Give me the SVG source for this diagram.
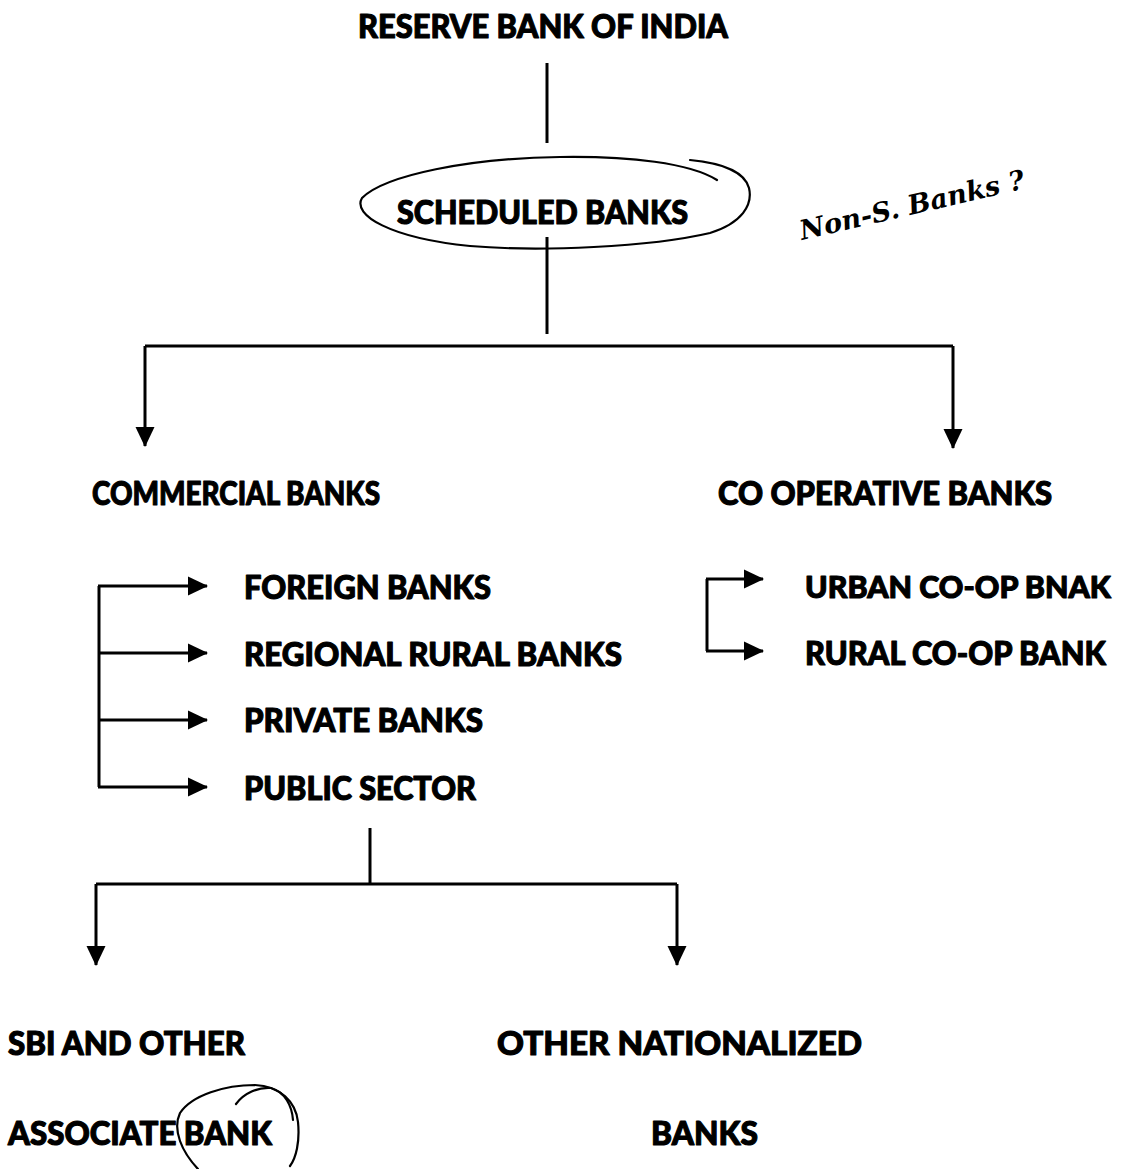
<svg xmlns="http://www.w3.org/2000/svg" width="1124" height="1169" viewBox="0 0 1124 1169">
<style>
.t{font-family:Lato,"Open Sans","Liberation Sans",sans-serif;font-weight:900;font-size:32px;fill:#000;stroke:#000;stroke-width:1.1;stroke-linejoin:round}
.c{stroke:#000;stroke-width:3;fill:none}
.a{stroke:#000;stroke-width:3;fill:none;marker-end:url(#ah)}
.h{stroke:#000;stroke-width:2.2;fill:none;stroke-linecap:round;stroke-linejoin:round}
.hw{font-family:"DejaVu Serif","Liberation Serif",serif;font-style:italic;font-weight:700;font-size:27px;fill:#000}
</style>
<defs>
<marker id="ah" markerUnits="userSpaceOnUse" markerWidth="22" markerHeight="22" viewBox="0 0 22 22" refX="20" refY="11" orient="auto">
<path d="M1,1.5 L21,11 L1,20.5 Z" fill="#000"/>
</marker>
</defs>
<rect width="1124" height="1169" fill="#fff"/>
<g id="connectors">
<line class="c" x1="547" y1="63" x2="547" y2="143"/>
<line class="c" x1="547" y1="237" x2="547" y2="334"/>
<line class="c" x1="145" y1="346" x2="953" y2="346"/>
<line class="a" x1="145" y1="346" x2="145" y2="446"/>
<line class="a" x1="953" y1="346" x2="953" y2="448"/>
<line class="c" x1="99" y1="586" x2="99" y2="787"/>
<line class="a" x1="98" y1="586" x2="207" y2="586"/>
<line class="a" x1="98" y1="653" x2="207" y2="653"/>
<line class="a" x1="98" y1="720" x2="207" y2="720"/>
<line class="a" x1="98" y1="787" x2="207" y2="787"/>
<line class="c" x1="707" y1="579" x2="707" y2="651"/>
<line class="a" x1="706" y1="579" x2="763" y2="579"/>
<line class="a" x1="706" y1="651" x2="763" y2="651"/>
<line class="c" x1="370" y1="828" x2="370" y2="884"/>
<line class="c" x1="96" y1="884" x2="677" y2="884"/>
<line class="a" x1="96" y1="884" x2="96" y2="965"/>
<line class="a" x1="677" y1="884" x2="677" y2="965"/>
</g>
<g id="node-rbi"><text class="t" x="358" y="38" textLength="370" lengthAdjust="spacingAndGlyphs">RESERVE BANK OF INDIA</text></g>
<g id="node-scheduled">
<path class="h" d="M717 180 C690 163 630 156 560 157 C470 158 385 175 362 198 C352 215 390 238 470 246 C540 252 650 247 710 233 C742 223 753 205 749 188 C745 172 722 163 690 160"/>
<text class="t" x="397" y="224" textLength="291" lengthAdjust="spacingAndGlyphs">SCHEDULED BANKS</text>
</g>
<g id="note"><text class="hw" x="802" y="240" transform="rotate(-13 802 240)">Non-S. Banks ?</text></g>
<g id="node-commercial"><text class="t" x="92" y="505" textLength="288" lengthAdjust="spacingAndGlyphs">COMMERCIAL BANKS</text></g>
<g id="node-coop"><text class="t" x="718" y="505" textLength="334" lengthAdjust="spacingAndGlyphs">CO OPERATIVE BANKS</text></g>
<g id="node-foreign"><text class="t" x="244" y="599" textLength="247" lengthAdjust="spacingAndGlyphs">FOREIGN BANKS</text></g>
<g id="node-rrb"><text class="t" x="244" y="666" textLength="378" lengthAdjust="spacingAndGlyphs">REGIONAL RURAL BANKS</text></g>
<g id="node-private"><text class="t" x="244" y="732" textLength="239" lengthAdjust="spacingAndGlyphs">PRIVATE BANKS</text></g>
<g id="node-public"><text class="t" x="244" y="800" textLength="232" lengthAdjust="spacingAndGlyphs">PUBLIC SECTOR</text></g>
<g id="node-urban"><text class="t" x="805" y="598" style="font-size:30.5px" textLength="306" lengthAdjust="spacingAndGlyphs">URBAN CO-OP BNAK</text></g>
<g id="node-rural"><text class="t" x="805" y="665" textLength="301" lengthAdjust="spacingAndGlyphs">RURAL CO-OP BANK</text></g>
<g id="node-sbi">
<text class="t" x="8" y="1055" textLength="237" lengthAdjust="spacingAndGlyphs">SBI AND OTHER</text>
<text class="t" x="8" y="1145" textLength="264" lengthAdjust="spacingAndGlyphs">ASSOCIATE BANK</text>
<path class="h" d="M198 1169 C182 1152 172 1130 180 1113 C192 1095 225 1085 255 1085 C280 1086 296 1102 298 1122 C300 1142 296 1158 290 1166"/>
<path class="h" d="M236 1104 C244 1093 258 1087 271 1088 C285 1092 292 1106 293 1120"/>
</g>
<g id="node-nationalized">
<text class="t" x="497" y="1055" textLength="365" lengthAdjust="spacingAndGlyphs">OTHER NATIONALIZED</text>
<text class="t" x="651" y="1145" textLength="107" lengthAdjust="spacingAndGlyphs">BANKS</text>
</g>
</svg>
